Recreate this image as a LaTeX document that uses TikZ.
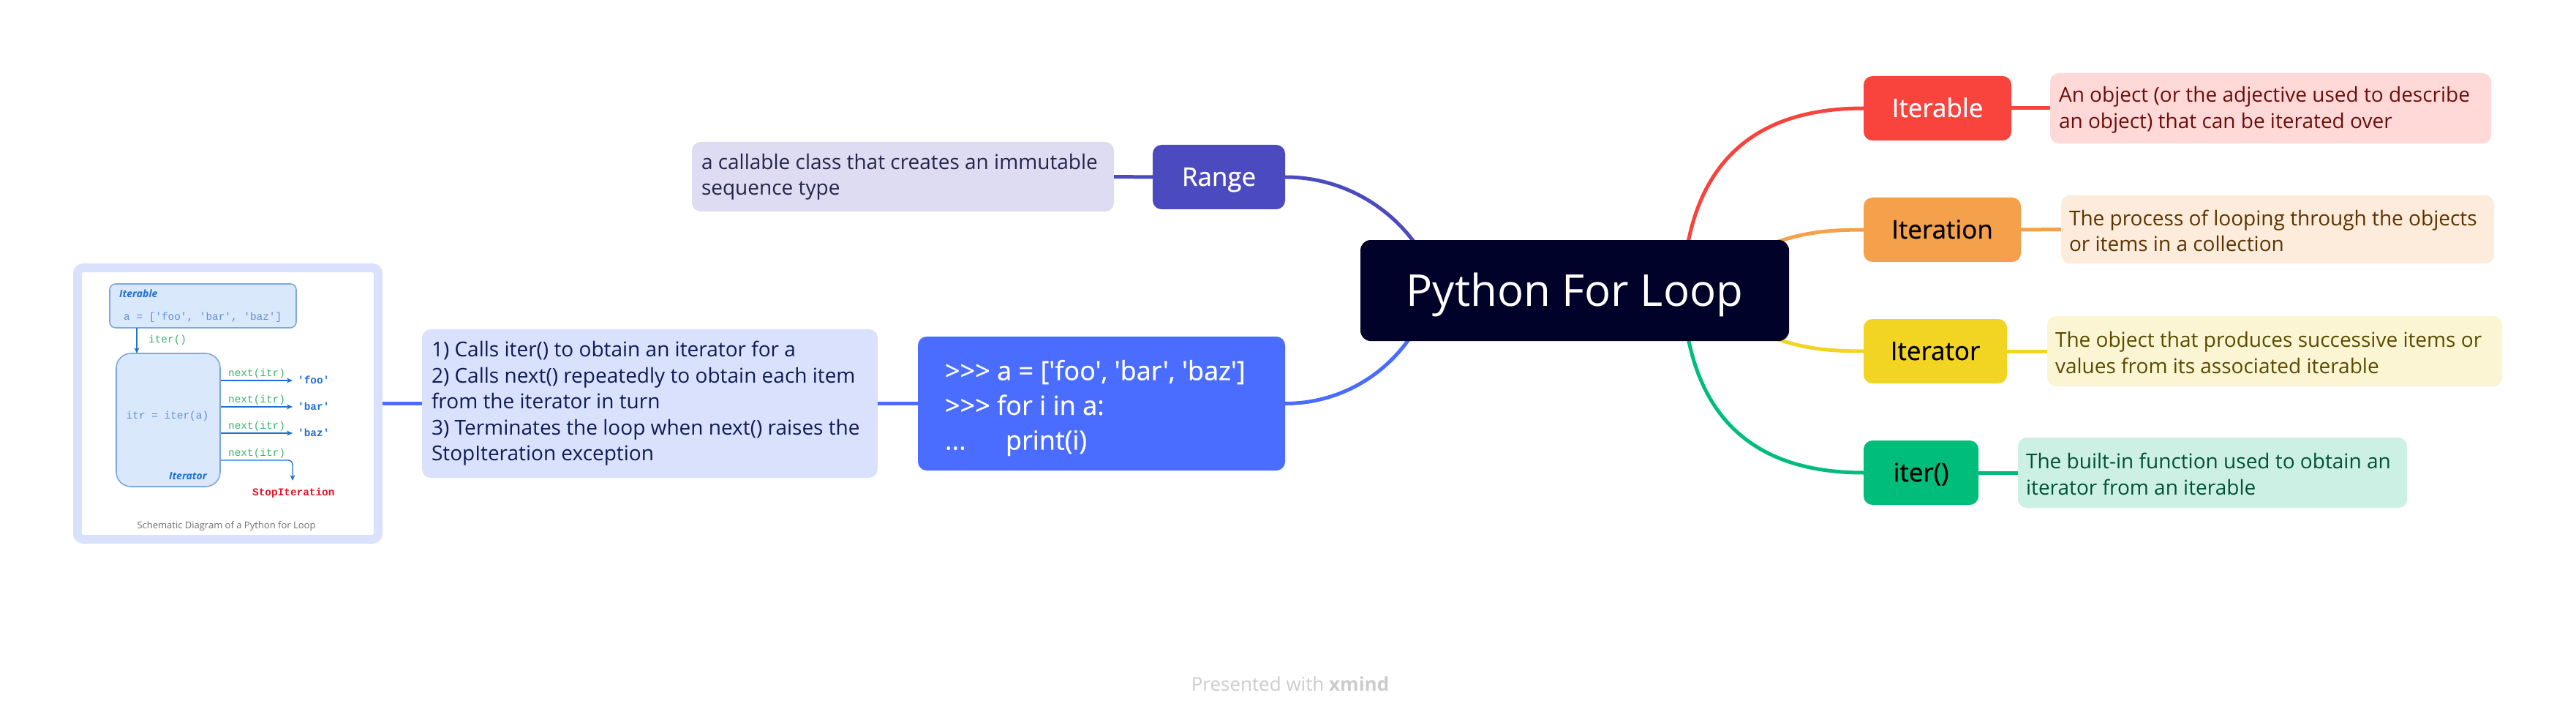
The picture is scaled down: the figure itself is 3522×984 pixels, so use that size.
\documentclass[tikz,border=0pt]{standalone}
\usepackage{fontspec}
\setmainfont{Open Sans}
\newfontfamily\osf{Open Sans}
\newfontfamily\osm{Open Sans}[FakeBold=0.6]
\newfontfamily\monof{Liberation Mono}
\usetikzlibrary{arrows.meta}
\definecolor{rootc}{HTML}{000229}
\definecolor{rangec}{HTML}{4C4ABF}
\definecolor{rangeb}{HTML}{DEDCF2}
\definecolor{ranget}{HTML}{26244A}
\definecolor{codec}{HTML}{4A6CFF}
\definecolor{codeb}{HTML}{DAE1FD}
\definecolor{codet}{HTML}{0E1B55}
\definecolor{redc}{HTML}{F9443D}
\definecolor{redb}{HTML}{FED9D7}
\definecolor{redt}{HTML}{6B0D0A}
\definecolor{orac}{HTML}{F5A14C}
\definecolor{orab}{HTML}{FDEBDB}
\definecolor{orat}{HTML}{5C3300}
\definecolor{yelc}{HTML}{F2D423}
\definecolor{yelb}{HTML}{FCF5D3}
\definecolor{yelt}{HTML}{5A4A00}
\definecolor{grnc}{HTML}{00BD7C}
\definecolor{grnb}{HTML}{CCF0E3}
\definecolor{grnt}{HTML}{005236}
\definecolor{footc}{HTML}{CCCCCC}
\definecolor{sfill}{HTML}{DAE8FC}
\definecolor{sline}{HTML}{7EA6E0}
\definecolor{sblue}{HTML}{1F6FD0}
\definecolor{slight}{HTML}{5B8FD6}
\definecolor{sgreen}{HTML}{3DB36B}
\definecolor{sred}{HTML}{E0141E}
\definecolor{sgray}{HTML}{707070}
\definecolor{framec}{HTML}{DAE1FD}
\newcommand{\descfont}{\fontsize{28}{35.5}\selectfont}
\newcommand{\lblfont}{\osm\fontsize{35}{40}\selectfont}
\newcommand{\codefont}{\osm\fontsize{36}{47.5}\selectfont}
\newcommand{\rootfont}{\fontsize{60}{70}\selectfont}
\newcommand{\smono}{\monof\fontsize{14.4}{16}\selectfont}
\begin{document}
\begin{tikzpicture}[x=1pt,y=-1pt,
  lbl/.style={rounded corners=12pt, minimum height=88pt, inner sep=0pt, font=\lblfont, text height=24pt, text depth=0pt},
  descbox/.style={rounded corners=12pt, inner sep=0pt},
  dtext/.style={anchor=west, align=left, inner sep=0pt, font=\descfont},
  conn/.style={line width=5pt},
  sbox/.style={draw=sline, fill=sfill, line width=1.6pt, inner sep=0pt},
  sarr/.style={draw=sblue, line width=1.4pt, -{Stealth[length=8pt,width=7pt]}},
  stxt/.style={inner sep=0pt, font=\smono}
]
\osf
\useasboundingbox (0,0) rectangle (3522,984);
\fill[white] (0,0) rectangle (3522,984);

% ---------- branch curves (behind root) ----------
\node[lbl, fill=rangec, text=white, minimum width=181pt] (rng) at (1666.5,242) {Range};
\node[lbl, fill=codec, minimum width=502pt, minimum height=183pt] (code) at (1506,551.5) {};
\node[lbl, fill=redc, text=white, minimum width=202pt] (itb) at (2649,148) {Iterable};
\node[lbl, fill=orac, text=black, minimum width=215pt] (itn) at (2655.5,314) {Iteration};
\node[lbl, fill=yelc, text=black, minimum width=196pt] (itr) at (2646,480) {Iterator};
\node[lbl, fill=grnc, text=black, minimum width=157pt] (itf) at (2626.5,646) {iter()};

\coordinate (cR) at (1975,455);
\coordinate (cC) at (1964,344.5);
\coordinate (cRed) at (2300,420);
\coordinate (cGrn) at (2300,372);
\coordinate (cOra) at (2380,352);
\coordinate (cYel) at (2380,442);

\draw[conn, rangec] (rng.east) .. controls (1877.7,242) and (1975,340) .. (cR);
\draw[conn, codec] (code.east) .. controls (1871.3,551.5) and (1964,458.8) .. (cC);
\draw[conn, redc] (cRed) .. controls (2300,238.7) and (2382.7,148) .. (itb.west);
\draw[conn, grnc] (cGrn) .. controls (2300,554.7) and (2382.7,646) .. (itf.west);
\draw[conn, orac] (cOra) .. controls (2440,322) and (2480,314) .. (itn.west);
\draw[conn, yelc] (cYel) .. controls (2440,472) and (2480,480) .. (itr.west);

% ---------- root ----------
\node[rounded corners=14pt, fill=rootc, text=white, inner sep=0pt, minimum width=586pt, minimum height=138pt, font=\rootfont, text height=42pt, text depth=0pt] (root) at (2153,397) {Python For Loop};

% ---------- code node text ----------
\node[anchor=west, align=left, inner sep=0pt, font=\codefont, text=white] (codet) at ([xshift=37pt,yshift=-6pt]code.west)
  {>>> a = ['foo', 'bar', 'baz']\\>>> for i in a:\\\makebox[83pt][l]{...}print(i)};

% ---------- descriptions ----------
\node[descbox, fill=rangeb, minimum width=577pt, minimum height=95pt] (rd) at (1234.5,241.5) {};
\node[dtext, text=ranget] (rdt) at ([xshift=13pt]rd.west) {a callable class that creates an immutable\\sequence type};

\node[descbox, fill=codeb, minimum width=623pt, minimum height=203pt] (ld) at (888.5,551.5) {};
\node[dtext, text=codet] (ldt) at ([xshift=13pt]ld.west) {1) Calls iter() to obtain an iterator for a\\2) Calls next() repeatedly to obtain each item\\from the iterator in turn\\3) Terminates the loop when next() raises the\\StopIteration exception};

\node[descbox, fill=redb, minimum width=603pt, minimum height=96pt] (itbd) at (3104.5,148) {};
\node[dtext, text=redt] (itbdt) at ([xshift=12pt,yshift=-2pt]itbd.west) {An object (or the adjective used to describe\\an object) that can be iterated over};

\node[descbox, fill=orab, minimum width=592pt, minimum height=93pt] (itnd) at (3114,313.5) {};
\node[dtext, text=orat] (itndt) at ([xshift=11pt,yshift=-2pt]itnd.west) {The process of looping through the objects\\or items in a collection};

\node[descbox, fill=yelb, minimum width=622pt, minimum height=96pt] (itrd) at (3110,480) {};
\node[dtext, text=yelt] (itrdt) at ([xshift=11pt,yshift=-2pt]itrd.west) {The object that produces successive items or\\values from its associated iterable};

\node[descbox, fill=grnb, minimum width=532pt, minimum height=96pt] (itfd) at (3025,646) {};
\node[dtext, text=grnt] (itfdt) at ([xshift=11pt,yshift=-2pt]itfd.west) {The built-in function used to obtain an\\iterator from an iterable};

% ---------- straight connectors ----------
\draw[conn, rangec] (rd.east) -- (rng.west);
\draw[conn, codec] (ld.east) -- (code.west);
\draw[conn, redc] (itb.east) -- (itbd.west);
\draw[conn, orac] (itn.east) -- (itnd.west);
\draw[conn, yelc] (itr.east) -- (itrd.west);
\draw[conn, grnc] (itf.east) -- (itfd.west);

% ---------- schematic picture ----------
\node[draw=framec, fill=white, line width=12pt, rounded corners=8pt, minimum width=411pt, minimum height=371pt, inner sep=0pt] (frm) at (311.5,551.5) {};
\draw[conn, codec] (frm.east) -- (ld.west);

\node[sbox, rounded corners=8pt, minimum width=255pt, minimum height=60pt] (sIt) at (277.5,418) {};
\node[anchor=base west, inner sep=0pt, font=\fontsize{14}{16}\selectfont\bfseries\itshape, text=sblue] (sItl) at (163,406) {Iterable};
\node[stxt, anchor=base west, text=slight] (sa) at (169,437) {a = ['foo', 'bar', 'baz']};

\node[sbox, rounded corners=20pt, minimum width=142pt, minimum height=182pt] (sIter) at (230,574) {};
\node[stxt, anchor=base, text=slight] (sitr) at (229,572) {itr = iter(a)};
\node[anchor=base east, inner sep=0pt, font=\fontsize{14}{16}\selectfont\bfseries\itshape, text=sblue] (sIterl) at (283,655) {Iterator};

\coordinate (sa1) at (187,448);
\coordinate (sa2) at (187,483);
\draw[sarr] (sa1) -- (sa2);
\node[stxt, anchor=base west, text=sgreen] (siter) at (203,468) {iter()};

\coordinate (e1) at (400,520);
\coordinate (e2) at (400,556);
\coordinate (e3) at (400,592);
\coordinate (e4a) at (400,629);
\coordinate (e4) at (400,657);
\draw[sarr] ([yshift=54pt]sIter.east) -- (e1);
\draw[sarr] ([yshift=18pt]sIter.east) -- (e2);
\draw[sarr] ([yshift=-18pt]sIter.east) -- (e3);
\draw[sarr, rounded corners=6pt] ([yshift=-55pt]sIter.east) -- (e4a) -- (e4);

\node[stxt, anchor=base west, text=sgreen] (n1) at (312,514) {next(itr)};
\node[stxt, anchor=base west, text=sgreen] (n2) at (312,550) {next(itr)};
\node[stxt, anchor=base west, text=sgreen] (n3) at (312,586) {next(itr)};
\node[stxt, anchor=base west, text=sgreen] (n4) at (312,623) {next(itr)};

\node[stxt, anchor=base west, text=sblue, font=\smono\bfseries] (v1) at (407,524) {'foo'};
\node[stxt, anchor=base west, text=sblue, font=\smono\bfseries] (v2) at (407,560) {'bar'};
\node[stxt, anchor=base west, text=sblue, font=\smono\bfseries] (v3) at (407,596) {'baz'};
\node[stxt, anchor=base west, text=sred, font=\smono\bfseries] (sstop) at (345,677) {StopIteration};

\node[anchor=base, inner sep=0pt, font=\fontsize{13}{15}\selectfont, text=sgray] (scap) at (309.5,722) {Schematic Diagram of a Python for Loop};

% ---------- footer ----------
\node[anchor=base, inner sep=0pt, text=footc, font=\fontsize{26}{30}\selectfont] (ft) at (1764,944) {Presented with \textbf{xmind}};
\end{tikzpicture}
\end{document}
